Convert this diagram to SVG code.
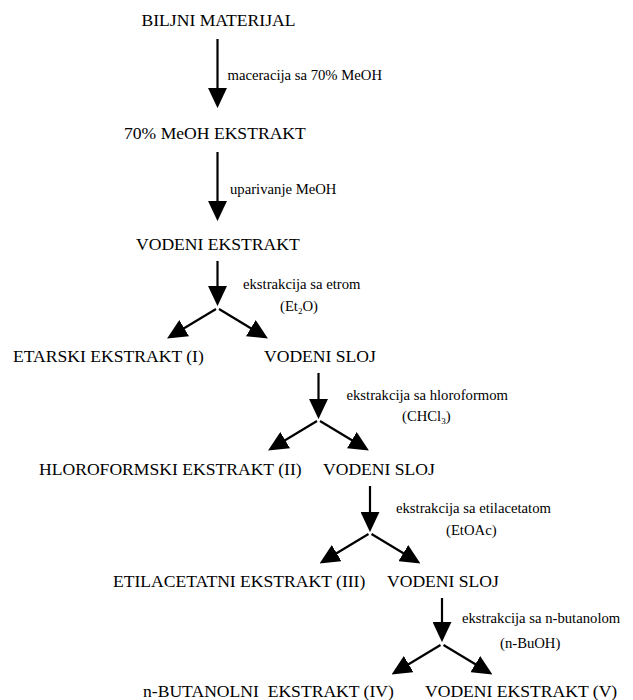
<svg xmlns="http://www.w3.org/2000/svg" width="633" height="700" viewBox="0 0 633 700">
<style>
text{font-family:"Liberation Serif","Times New Roman",serif;fill:#000}
.n{font-size:17.6px}
.l{font-size:14.7px}
.s{font-size:9px}
.c line{stroke:#000;stroke-width:2.2;fill:none}
</style>
<defs>
<marker id="ah" markerUnits="userSpaceOnUse" markerWidth="20" markerHeight="19" viewBox="0 0 18 17" refX="8" refY="8.5" orient="auto">
<path d="M0,0 L18,8.5 L0,17 z" fill="#000"/>
</marker>
</defs>
<rect width="633" height="700" fill="#fff"/>
<g class="c" id="connectors">
<line x1="217.5" y1="39" x2="217.5" y2="97" marker-end="url(#ah)"/>
<line x1="217.5" y1="152" x2="217.5" y2="210" marker-end="url(#ah)"/>
<line x1="217.5" y1="261" x2="217.5" y2="295" marker-end="url(#ah)"/>
<line x1="216" y1="309" x2="176.6" y2="332.8" marker-end="url(#ah)"/>
<line x1="219" y1="309" x2="258.4" y2="332.8" marker-end="url(#ah)"/>
<line x1="318.5" y1="373" x2="318.5" y2="408" marker-end="url(#ah)"/>
<line x1="317" y1="421" x2="277.6" y2="444.8" marker-end="url(#ah)"/>
<line x1="320" y1="421" x2="359.4" y2="444.8" marker-end="url(#ah)"/>
<line x1="370" y1="486" x2="370" y2="521" marker-end="url(#ah)"/>
<line x1="368.5" y1="534" x2="329.1" y2="557.8" marker-end="url(#ah)"/>
<line x1="371.5" y1="534" x2="410.9" y2="557.8" marker-end="url(#ah)"/>
<line x1="442" y1="598" x2="442" y2="631" marker-end="url(#ah)"/>
<line x1="440.5" y1="645" x2="401.1" y2="668.8" marker-end="url(#ah)"/>
<line x1="443.5" y1="645" x2="482.9" y2="668.8" marker-end="url(#ah)"/>
</g>
<g id="labels">
<text class="l" x="227.5" y="80">maceracija sa 70% MeOH</text>
<text class="l" x="230" y="194">uparivanje MeOH</text>
<text class="l" x="243" y="289">ekstrakcija sa etrom</text>
<text class="l" x="280" y="311">(Et<tspan class="s" dy="3">2</tspan><tspan dy="-3">O)</tspan></text>
<text class="l" x="346.5" y="400">ekstrakcija sa hloroformom</text>
<text class="l" x="402" y="421">(CHCl<tspan class="s" dy="3">3</tspan><tspan dy="-3">)</tspan></text>
<text class="l" x="396" y="513">ekstrakcija sa etilacetatom</text>
<text class="l" x="446" y="535">(EtOAc)</text>
<text class="l" x="462" y="623">ekstrakcija sa n-butanolom</text>
<text class="l" x="500" y="648">(n-BuOH)</text>
</g>
<g id="n1"><text class="n" x="141.5" y="26">BILJNI MATERIJAL</text></g>
<g id="n2"><text class="n" x="124" y="139">70% MeOH EKSTRAKT</text></g>
<g id="n3"><text class="n" x="136" y="250">VODENI EKSTRAKT</text></g>
<g id="n4"><text class="n" x="13" y="362">ETARSKI EKSTRAKT (I)</text></g>
<g id="n5"><text class="n" x="264" y="362">VODENI SLOJ</text></g>
<g id="n6"><text class="n" x="39" y="475">HLOROFORMSKI EKSTRAKT (II)</text></g>
<g id="n7"><text class="n" x="323" y="475">VODENI SLOJ</text></g>
<g id="n8"><text class="n" x="113" y="587">ETILACETATNI EKSTRAKT (III)</text></g>
<g id="n9"><text class="n" x="387" y="587">VODENI SLOJ</text></g>
<g id="n10"><text class="n" x="143" y="697" xml:space="preserve">n-BUTANOLNI  EKSTRAKT (IV)</text></g>
<g id="n11"><text class="n" x="425" y="697">VODENI EKSTRAKT (V)</text></g>
</svg>
